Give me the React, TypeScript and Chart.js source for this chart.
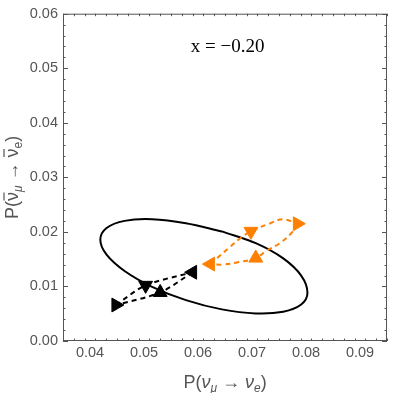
import React, { useEffect, useRef } from "react";
import { Chart, registerables } from "chart.js";

Chart.register(...registerables);

// Axis ticks
const X_TICKS = [0.04, 0.05, 0.06, 0.07, 0.08, 0.09];
const Y_TICKS = [0.0, 0.01, 0.02, 0.03, 0.04, 0.05, 0.06];
const X_MIN = 0.035;
const X_MAX = 0.095;
const Y_MIN = 0.0;
const Y_MAX = 0.06;

// Title label
const TITLE_TEXT = "x = \u22120.20";
const TITLE_X = 0.0655;
const TITLE_Y = 0.0539;

// Ellipse (solid black)
const ELLIPSE_X = [0.06442, 0.07069, 0.07578, 0.07911, 0.08027, 0.07911, 0.07578, 0.07069, 0.06442, 0.05776, 0.0515, 0.0464, 0.04307, 0.04191, 0.04307, 0.0464, 0.0515, 0.05776, 0.06442];
const ELLIPSE_Y = [0.02009, 0.01793, 0.01514, 0.01198, 0.00883, 0.00668, 0.00537, 0.00506, 0.0058, 0.0075, 0.00993, 0.01283, 0.01582, 0.01856, 0.0207, 0.02202, 0.02232, 0.02159, 0.02009];

// Black dashed loop
const BLACK_UPPER_X = [0.0448, 0.0503, 0.059];
const BLACK_UPPER_Y = [0.0066, 0.0102, 0.0126];
const BLACK_LOWER_X = [0.059, 0.053, 0.0448];
const BLACK_LOWER_Y = [0.0126, 0.0089, 0.0066];
const BLACK_MARK_X = [0.0448, 0.0503, 0.059, 0.053];
const BLACK_MARK_Y = [0.0066, 0.0102, 0.0126, 0.0089];
const BLACK_MARK_ROT = [90, 180, 270, 0];

// Orange dashed loop
const ORANGE_UPPER_X = [0.0623, 0.066, 0.0678, 0.0698, 0.0732, 0.0757, 0.0784];
const ORANGE_UPPER_Y = [0.0141, 0.0173, 0.0188, 0.0201, 0.0215, 0.0223, 0.0215];
const ORANGE_LOWER_X = [0.0784, 0.0775, 0.0751, 0.0726, 0.0707, 0.0672, 0.0645, 0.0623];
const ORANGE_LOWER_Y = [0.0215, 0.02, 0.0179, 0.0165, 0.0152, 0.0144, 0.014, 0.0141];
const ORANGE_MARK_X = [0.0623, 0.0698, 0.0784, 0.0707];
const ORANGE_MARK_Y = [0.0141, 0.0201, 0.0215, 0.0152];
const ORANGE_MARK_ROT = [270, 180, 90, 0];

const ORANGE = "rgb(255,128,0)";
const FRAME = "#555555";
const SANS = '"Liberation Sans", Arial, sans-serif';
const SERIF = '"Liberation Serif", "Times New Roman", serif';

const pts = (xs: number[], ys: number[]) => xs.map((x, i) => ({ x, y: ys[i] }));

type Part = { text: string; font: string; dy?: number; overline?: boolean };

function drawRich(ctx: CanvasRenderingContext2D, parts: Part[], cx: number, baseline: number) {
  let total = 0;
  const widths = parts.map((p) => {
    ctx.font = p.font;
    const w = ctx.measureText(p.text).width;
    total += w;
    return w;
  });
  let x = cx - total / 2;
  ctx.textAlign = "left";
  ctx.textBaseline = "alphabetic";
  parts.forEach((p, i) => {
    ctx.font = p.font;
    ctx.fillText(p.text, x, baseline + (p.dy || 0));
    if (p.overline) {
      ctx.save();
      ctx.lineWidth = 1.2;
      ctx.beginPath();
      ctx.moveTo(x + 0.5, baseline - 14);
      ctx.lineTo(x + widths[i] - 0.5, baseline - 14);
      ctx.stroke();
      ctx.restore();
    }
    x += widths[i];
  });
}

const framePlugin = {
  id: "mmaFrame",
  afterDraw(chart: any) {
    const ctx: CanvasRenderingContext2D = chart.ctx;
    const { left, right, top, bottom } = chart.chartArea;
    const xs = chart.scales.x;
    const ys = chart.scales.y;
    ctx.save();
    ctx.strokeStyle = FRAME;
    ctx.lineWidth = 1;
    ctx.strokeRect(left + 0.5, top + 0.5, right - left - 1, bottom - top - 1);
    ctx.beginPath();
    for (let k = 0; k <= 30; k++) {
      const v = X_MIN + k * 0.002;
      if (v > X_MAX + 1e-9) break;
      const major = X_TICKS.some((t) => Math.abs(t - v) < 1e-9);
      const len = major ? 5 : 2.5;
      const px = Math.round(xs.getPixelForValue(v)) + 0.5;
      ctx.moveTo(px, bottom);
      ctx.lineTo(px, bottom - len);
      ctx.moveTo(px, top);
      ctx.lineTo(px, top + len);
    }
    for (let k = 0; k <= 30; k++) {
      const v = Y_MIN + k * 0.002;
      if (v > Y_MAX + 1e-9) break;
      const major = Y_TICKS.some((t) => Math.abs(t - v) < 1e-9);
      const len = major ? 5 : 2.5;
      const py = Math.round(ys.getPixelForValue(v)) + 0.5;
      ctx.moveTo(left, py);
      ctx.lineTo(left + len, py);
      ctx.moveTo(right, py);
      ctx.lineTo(right - len, py);
    }
    ctx.stroke();

    // Title inside plot
    ctx.fillStyle = "#000";
    ctx.font = `19px ${SERIF}`;
    ctx.textAlign = "center";
    ctx.textBaseline = "middle";
    ctx.fillText(TITLE_TEXT, xs.getPixelForValue(TITLE_X), ys.getPixelForValue(TITLE_Y));

    // Axis labels
    ctx.fillStyle = FRAME;
    ctx.strokeStyle = FRAME;
    const big = `18px ${SANS}`;
    const bigIt = `italic 18px ${SANS}`;
    const smIt = `italic 12px ${SANS}`;
    drawRich(
      ctx,
      [
        { text: "P(", font: big },
        { text: "\u03bd", font: bigIt },
        { text: "\u03bc", font: smIt, dy: 4 },
        { text: " \u2192 ", font: big },
        { text: "\u03bd", font: bigIt },
        { text: "e", font: smIt, dy: 4 },
        { text: ")", font: big },
      ],
      (left + right) / 2,
      388
    );
    ctx.save();
    ctx.translate(18, (top + bottom) / 2);
    ctx.rotate(-Math.PI / 2);
    drawRich(
      ctx,
      [
        { text: "P(", font: big },
        { text: "\u03bd", font: big, overline: true },
        { text: "\u03bc", font: smIt, dy: 4 },
        { text: " \u2192 ", font: big },
        { text: "\u03bd", font: big, overline: true },
        { text: "e", font: `12px ${SANS}`, dy: 4 },
        { text: ")", font: big },
      ],
      0,
      0
    );
    ctx.restore();
    ctx.restore();
  },
};

export default function App() {
  const ref = useRef<HTMLCanvasElement | null>(null);
  useEffect(() => {
    if (!ref.current) return;
    const dash = [5, 4];
    const chart = new Chart(ref.current, {
      type: "scatter",
      data: {
        datasets: [
          {
            data: pts(BLACK_MARK_X, BLACK_MARK_Y),
            showLine: false,
            pointStyle: "triangle",
            pointRadius: 8,
            pointRotation: BLACK_MARK_ROT,
            backgroundColor: "#000",
            borderColor: "#000",
            borderWidth: 1,
          } as any,
          {
            data: pts(ORANGE_MARK_X, ORANGE_MARK_Y),
            showLine: false,
            pointStyle: "triangle",
            pointRadius: 8,
            pointRotation: ORANGE_MARK_ROT,
            backgroundColor: ORANGE,
            borderColor: ORANGE,
            borderWidth: 1,
          } as any,
          {
            data: pts(BLACK_UPPER_X, BLACK_UPPER_Y),
            showLine: true,
            borderColor: "#000",
            borderWidth: 2,
            borderDash: dash,
            pointRadius: 0,
            tension: 0.3,
          },
          {
            data: pts(BLACK_LOWER_X, BLACK_LOWER_Y),
            showLine: true,
            borderColor: "#000",
            borderWidth: 2,
            borderDash: dash,
            pointRadius: 0,
            tension: 0.3,
          },
          {
            data: pts(ORANGE_UPPER_X, ORANGE_UPPER_Y),
            showLine: true,
            borderColor: ORANGE,
            borderWidth: 2,
            borderDash: dash,
            pointRadius: 0,
            tension: 0.4,
          },
          {
            data: pts(ORANGE_LOWER_X, ORANGE_LOWER_Y),
            showLine: true,
            borderColor: ORANGE,
            borderWidth: 2,
            borderDash: dash,
            pointRadius: 0,
            tension: 0.4,
          },
          {
            data: pts(ELLIPSE_X, ELLIPSE_Y),
            showLine: true,
            borderColor: "#000",
            borderWidth: 2,
            pointRadius: 0,
            tension: 0.35,
          },
        ],
      },
      options: {
        responsive: false,
        animation: false,
        devicePixelRatio: 1,
        layout: { padding: { top: 8, right: 3, left: 0, bottom: 0 } },
        plugins: { legend: { display: false }, tooltip: { enabled: false } },
        scales: {
          x: {
            type: "linear",
            min: X_MIN,
            max: X_MAX,
            afterBuildTicks: (s: any) => {
              s.ticks = X_TICKS.map((v) => ({ value: v }));
            },
            afterFit: (s: any) => {
              s.height = 52;
            },
            ticks: {
              callback: (v: any) => Number(v).toFixed(2),
              font: { family: SANS, size: 14.5 },
              color: FRAME,
              padding: 3,
              maxRotation: 0,
              autoSkip: false,
            },
            grid: { display: false, drawTicks: false },
            border: { display: false },
          },
          y: {
            type: "linear",
            min: Y_MIN,
            max: Y_MAX,
            afterBuildTicks: (s: any) => {
              s.ticks = Y_TICKS.map((v) => ({ value: v }));
            },
            afterFit: (s: any) => {
              s.width = 63;
            },
            ticks: {
              callback: (v: any) => Number(v).toFixed(2),
              font: { family: SANS, size: 14.5 },
              color: FRAME,
              padding: 5,
              autoSkip: false,
            },
            grid: { display: false, drawTicks: false },
            border: { display: false },
          },
        },
      } as any,
      plugins: [framePlugin],
    });
    return () => chart.destroy();
  }, []);
  return (
    <div style={{ position: "absolute", left: 0, top: 0, width: 396, height: 393, background: "#fff" }}>
      <canvas ref={ref} width={396} height={393} style={{ display: "block" }} />
    </div>
  );
}
